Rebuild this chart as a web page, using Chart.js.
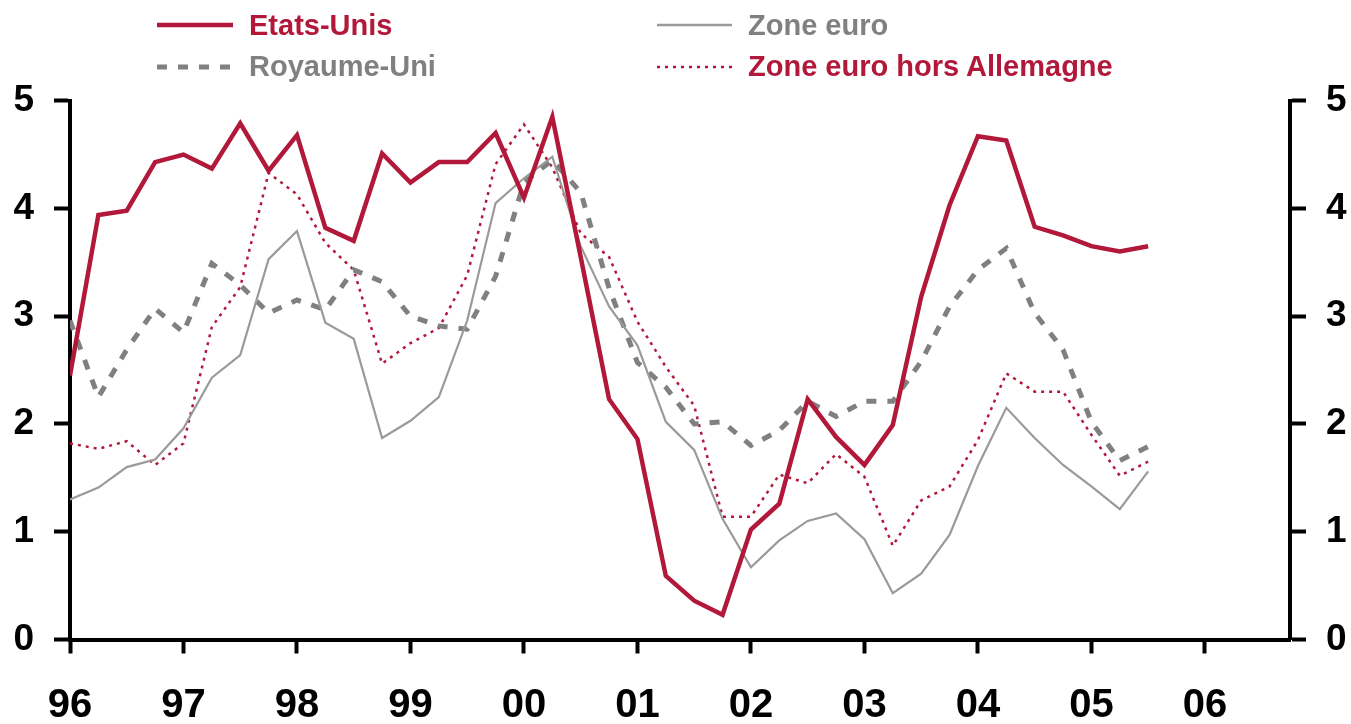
<!DOCTYPE html>
<html><head><meta charset="utf-8">
<script src="https://cdn.jsdelivr.net/npm/chart.js@4.4.1/dist/chart.umd.min.js"></script>
<style>
html,body{margin:0;padding:0;background:#fff;}
#wrap{position:relative;width:1351px;height:724px;overflow:hidden;}
#c{position:absolute;left:0;top:0;}
#lgsvg{position:absolute;left:0;top:0;}
.lg{position:absolute;font-family:"Liberation Sans",Arial,sans-serif;font-weight:bold;font-size:29px;line-height:29px;white-space:nowrap;}
</style></head><body>
<div id="wrap">
<canvas id="c" width="1351" height="724"></canvas>
<svg id="lgsvg" width="1351" height="100">
  <line x1="157" y1="25" x2="233" y2="25" stroke="#B2183A" stroke-width="4.5"/>
  <line x1="657" y1="25" x2="732" y2="25" stroke="#9a9a9a" stroke-width="2.5"/>
  <line x1="157" y1="67" x2="233" y2="67" stroke="#808080" stroke-width="5" stroke-dasharray="10,11"/>
  <line x1="657" y1="67" x2="732" y2="67" stroke="#B2183A" stroke-width="2.5" stroke-dasharray="3,5"/>
</svg>
<div class="lg" style="left:249px;top:10.5px;color:#B2183A">Etats-Unis</div>
<div class="lg" style="left:748px;top:10.5px;color:#808080">Zone euro</div>
<div class="lg" style="left:249px;top:52px;color:#808080">Royaume-Uni</div>
<div class="lg" style="left:748px;top:52px;color:#B2183A">Zone euro hors Allemagne</div>
</div>
<script>
// Tick labels (one per year, every 4 quarters)
const yearLabels = ["96","97","98","99","00","01","02","03","04","05","06"];
// Quarterly series, 1996 Q1 .. 2005 Q3
const etatsUnis = [2.45,3.94,3.98,4.43,4.50,4.37,4.79,4.35,4.68,3.82,3.70,4.51,4.24,4.43,4.43,4.70,4.10,4.85,3.55,2.23,1.86,0.59,0.36,0.23,1.02,1.26,2.23,1.88,1.62,1.99,3.18,4.03,4.67,4.63,3.83,3.75,3.65,3.60,3.65];
const zoneEuro = [1.30,1.41,1.60,1.67,1.96,2.43,2.64,3.53,3.79,2.94,2.79,1.87,2.03,2.25,2.96,4.05,4.28,4.48,3.65,3.09,2.73,2.02,1.76,1.12,0.67,0.92,1.10,1.17,0.93,0.43,0.61,0.97,1.61,2.15,1.87,1.62,1.42,1.21,1.56];
const royaumeUni = [2.96,2.25,2.69,3.07,2.85,3.49,3.29,3.03,3.15,3.06,3.43,3.32,3.00,2.91,2.88,3.37,4.24,4.45,4.15,3.26,2.57,2.34,2.00,2.02,1.80,1.94,2.21,2.07,2.21,2.21,2.58,3.09,3.43,3.63,3.03,2.69,2.02,1.66,1.79];
const zoneEuroHorsAllemagne = [1.82,1.77,1.84,1.62,1.82,2.90,3.27,4.33,4.13,3.68,3.43,2.56,2.75,2.89,3.38,4.41,4.78,4.38,3.77,3.55,2.95,2.53,2.17,1.14,1.14,1.53,1.45,1.72,1.51,0.87,1.29,1.42,1.85,2.47,2.30,2.30,1.90,1.52,1.65];

const RED = "#B2183A";
const FAM = '"Liberation Sans", Arial, sans-serif';
const pts = arr => arr.map((v, i) => ({x: i, y: v}));

const yAxis = (pos, w) => ({
  position: pos, min: 0, max: 5,
  ticks: {stepSize: 1, color: "#000", padding: 20, font: {family: FAM, size: 37, weight: "bold"}},
  grid: {drawOnChartArea: false, drawTicks: true, tickLength: 16, tickWidth: 4, tickColor: "#000"},
  border: {display: true, width: 4, color: "#000"},
  afterFit: s => { s.width = w; }
});

new Chart(document.getElementById("c"), {
  type: "line",
  data: {
    datasets: [
      {label: "Etats-Unis", data: pts(etatsUnis), borderColor: RED, borderWidth: 4.5, yAxisID: "y"},
      {label: "Zone euro", data: pts(zoneEuro), borderColor: "#9a9a9a", borderWidth: 2.2, yAxisID: "y"},
      {label: "Royaume-Uni", data: pts(royaumeUni), borderColor: "#808080", borderWidth: 5, borderDash: [10, 11], yAxisID: "y"},
      {label: "Zone euro hors Allemagne", data: pts(zoneEuroHorsAllemagne), borderColor: RED, borderWidth: 2.5, borderDash: [3, 5], yAxisID: "y"}
    ]
  },
  options: {
    responsive: false, animation: false, devicePixelRatio: 1,
    elements: {point: {radius: 0}, line: {tension: 0, fill: false, borderCapStyle: "butt"}},
    layout: {padding: {top: 100.7, left: 0, right: 0, bottom: 0}},
    plugins: {legend: {display: false}, tooltip: {enabled: false}},
    scales: {
      x: {
        type: "linear", min: 0, max: 43,
        afterBuildTicks: s => { s.ticks = yearLabels.map((_, i) => ({value: i * 4})); },
        ticks: {callback: v => yearLabels[Math.round(v / 4)], autoSkip: false, maxRotation: 0, color: "#000", padding: 28,
                font: {family: FAM, size: 40, weight: "bold"}},
        grid: {drawOnChartArea: false, drawTicks: true, tickLength: 14, tickWidth: 4, tickColor: "#000"},
        border: {display: true, width: 4, color: "#000"},
        afterFit: s => { s.height = 84.5; }
      },
      y: yAxis("left", 70),
      y2: yAxis("right", 61)
    }
  }
});
</script>
</body></html>
